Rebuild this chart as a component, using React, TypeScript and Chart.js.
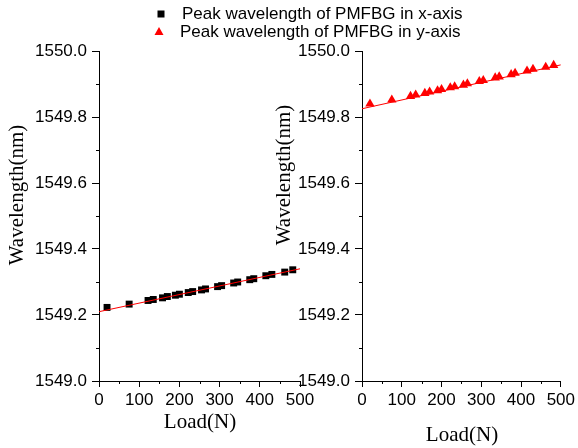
import React, { useEffect, useRef } from 'react';
import { Chart, registerables } from 'chart.js';

Chart.register(...registerables);

// Applied load (N) for each measurement
const loads = [20, 75, 122, 135, 158, 170, 190, 200, 222, 233, 255, 265, 295, 305, 335, 345, 375, 385, 415, 430, 462, 482];

// Peak wavelength (nm) along the fast (x) axis
const peakXAxis = [
  1549.223, 1549.233, 1549.244, 1549.247, 1549.252, 1549.256, 1549.26, 1549.263, 1549.268, 1549.271, 1549.276,
  1549.279, 1549.286, 1549.289, 1549.297, 1549.3, 1549.307, 1549.31, 1549.319, 1549.323, 1549.33, 1549.337,
];

// Peak wavelength (nm) along the slow (y) axis
const peakYAxis = [
  1549.84, 1549.852, 1549.863, 1549.867, 1549.872, 1549.876, 1549.88, 1549.884, 1549.889, 1549.892, 1549.897,
  1549.901, 1549.908, 1549.911, 1549.919, 1549.922, 1549.929, 1549.933, 1549.94, 1549.945, 1549.951, 1549.957,
];

// Linear fit end points
const fitLoads = [0, 500];
const fitXAxis = [1549.21, 1549.34];
const fitYAxis = [1549.825, 1549.958];

// Axis ranges and minor tick values
const loadRange = [0, 500];
const wavelengthRange = [1549.0, 1550.0];
const minorLoads = [50, 150, 250, 350, 450];
const minorWavelengths = [1549.1, 1549.3, 1549.5, 1549.7, 1549.9];

const legendLabels = ['Peak wavelength of PMFBG in x-axis', 'Peak wavelength of PMFBG in y-axis'];
const xTitle = 'Load(N)';
const yTitle = 'Wavelength(nm)';

const W = 578;
const H = 448;
const PLOT_TOP = 51;
const PLOT_BOTTOM = 381;
const Y_AXIS_W = 72;
const X_AXIS_H = 30;
const SANS = '"Liberation Sans", Arial, sans-serif';
const SERIF = '"Liberation Serif", "Times New Roman", serif';

function drawMarker(ctx: CanvasRenderingContext2D, style: string, x: number, y: number, color: string) {
  ctx.fillStyle = color;
  if (style === 'rect') {
    ctx.fillRect(x - 3.5, y - 3.5, 7, 7);
  } else {
    ctx.beginPath();
    ctx.moveTo(x, y - 5);
    ctx.lineTo(x + 4.5, y + 3);
    ctx.lineTo(x - 4.5, y + 3);
    ctx.closePath();
    ctx.fill();
  }
}

// Minor ticks, axis captions and (optionally) the shared legend
const panelDecor = {
  id: 'panelDecor',
  afterDraw(chart: any, _args: any, opts: any) {
    const { ctx, scales } = chart;
    const x = scales.x;
    const y = scales.y;
    ctx.save();
    ctx.strokeStyle = '#000';
    ctx.lineWidth = 1;
    ctx.beginPath();
    for (const v of minorLoads) {
      const px = Math.round(x.getPixelForValue(v)) + 0.5;
      ctx.moveTo(px, y.bottom);
      ctx.lineTo(px, y.bottom + 3);
    }
    for (const v of minorWavelengths) {
      const py = Math.round(y.getPixelForValue(v)) + 0.5;
      ctx.moveTo(x.left, py);
      ctx.lineTo(x.left - 3, py);
    }
    ctx.stroke();

    ctx.fillStyle = '#000';
    ctx.font = `21px ${SERIF}`;
    ctx.textAlign = 'center';
    ctx.textBaseline = 'middle';
    ctx.fillText(xTitle, opts.xTitleAt[0], opts.xTitleAt[1]);
    ctx.save();
    ctx.translate(opts.yTitleAt[0], opts.yTitleAt[1]);
    ctx.rotate(-Math.PI / 2);
    ctx.fillText(yTitle, 0, 0);
    ctx.restore();

    if (opts.legend) {
      ctx.font = `17px ${SANS}`;
      ctx.textAlign = 'left';
      opts.legend.forEach((item: any, i: number) => {
        drawMarker(ctx, item.style, item.marker[0], item.marker[1], item.color);
        ctx.fillStyle = '#000';
        ctx.fillText(legendLabels[i], item.textX, item.marker[1]);
      });
    }
    ctx.restore();
  },
};

function buildConfig(p: {
  values: number[];
  fit: number[];
  color: string;
  pointStyle: string;
  radius: number;
  plotLeft: number;
  plotRight: number;
  decor: any;
}): any {
  const tickFont = { family: SANS, size: 17 };
  return {
    type: 'scatter',
    data: {
      datasets: [
        {
          type: 'line',
          data: fitLoads.map((l, i) => ({ x: l, y: p.fit[i] })),
          borderColor: '#ff0000',
          borderWidth: 1,
          pointRadius: 0,
          fill: false,
          order: 0,
        },
        {
          type: 'scatter',
          data: loads.map((l, i) => ({ x: l, y: p.values[i] })),
          pointStyle: p.pointStyle,
          pointRadius: p.radius,
          backgroundColor: p.color,
          borderColor: p.color,
          borderWidth: 0,
          order: 1,
        },
      ],
    },
    options: {
      responsive: false,
      animation: false,
      layout: {
        padding: {
          left: p.plotLeft - Y_AXIS_W,
          right: W - p.plotRight,
          top: PLOT_TOP,
          bottom: H - PLOT_BOTTOM - X_AXIS_H,
        },
      },
      plugins: {
        legend: { display: false },
        tooltip: { enabled: false },
        panelDecor: p.decor,
      },
      scales: {
        x: {
          type: 'linear',
          min: loadRange[0],
          max: loadRange[1],
          ticks: { stepSize: 100, font: tickFont, color: '#000', padding: 3, maxRotation: 0 },
          grid: { drawOnChartArea: false, drawTicks: true, tickLength: 6, tickColor: '#000', color: '#000' },
          border: { display: true, color: '#000', width: 1 },
          afterFit: (s: any) => {
            s.height = X_AXIS_H;
          },
        },
        y: {
          type: 'linear',
          min: wavelengthRange[0],
          max: wavelengthRange[1],
          ticks: {
            stepSize: 0.2,
            font: tickFont,
            color: '#000',
            padding: 5,
            callback: (v: any) => Number(v).toFixed(1),
          },
          grid: { drawOnChartArea: false, drawTicks: true, tickLength: 7, tickColor: '#000', color: '#000' },
          border: { display: true, color: '#000', width: 1 },
          afterFit: (s: any) => {
            s.width = Y_AXIS_W;
          },
        },
      },
    },
    plugins: [panelDecor],
  };
}

export default function App() {
  const leftRef = useRef<HTMLCanvasElement | null>(null);
  const rightRef = useRef<HTMLCanvasElement | null>(null);

  useEffect(() => {
    const left = new Chart(
      leftRef.current as HTMLCanvasElement,
      buildConfig({
        values: peakXAxis,
        fit: fitXAxis,
        color: '#000000',
        pointStyle: 'rect',
        radius: 4.9,
        plotLeft: 99,
        plotRight: 300,
        decor: {
          xTitleAt: [200, 422],
          yTitleAt: [17, 195],
          legend: [
            { style: 'rect', color: '#000000', marker: [161, 14], textX: 182 },
            { style: 'triangle', color: '#ff0000', marker: [159, 32], textX: 180 },
          ],
        },
      })
    );
    const right = new Chart(
      rightRef.current as HTMLCanvasElement,
      buildConfig({
        values: peakYAxis,
        fit: fitYAxis,
        color: '#ff0000',
        pointStyle: 'triangle',
        radius: 5.4,
        plotLeft: 362,
        plotRight: 562,
        decor: {
          xTitleAt: [462, 435],
          yTitleAt: [284, 175],
          legend: null,
        },
      })
    );
    return () => {
      left.destroy();
      right.destroy();
    };
  }, []);

  const canvasStyle: React.CSSProperties = { position: 'absolute', left: 0, top: 0 };
  return (
    <div style={{ position: 'absolute', left: 0, top: 0, width: W, height: H, background: '#fff' }}>
      <canvas ref={leftRef} width={W} height={H} style={canvasStyle} />
      <canvas ref={rightRef} width={W} height={H} style={canvasStyle} />
    </div>
  );
}
